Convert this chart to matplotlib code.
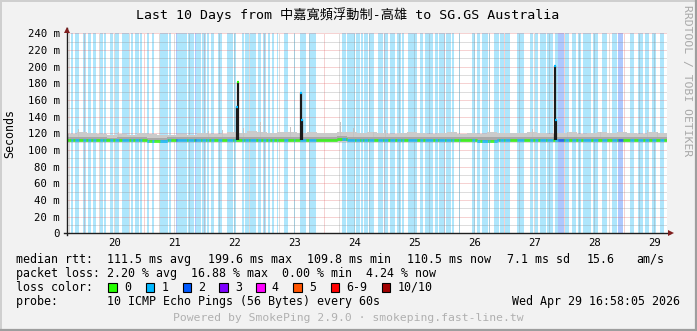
import numpy as np
import matplotlib.pyplot as plt
from matplotlib.collections import LineCollection
from matplotlib.lines import Line2D
from matplotlib.patches import Rectangle

W, H = 697, 331
MONO = ['DejaVu Sans Mono', 'Noto Sans CJK TC']

# time axis in days of April 2026, graph ends Apr 29 16:58
t_end = 29 + (16 * 60 + 58) / 1440.0
t_start = t_end - 10
n_steps = 600
step = 10.0 / n_steps          # one rrd step = 24 min

loss_colors = {0: '#26ff00', 1: '#00b8ff', 2: '#0059ff', 3: '#7e00ff',
               4: '#ff00ff', 5: '#ff5500', 6: '#ff0000', 10: '#a10000'}
bg_colors = {1: '#aee6fc', 2: '#aec8fe'}
legend_keys = [0, 1, 2, 3, 4, 5, 6, 10]
legend_names = ['0', '1', '2', '3', '4', '5', '6-9', '10/10']

# packet loss runs: (first step, end step, loss level)
loss_runs = [
    (4, 6, 1), (8, 12, 1), (16, 19, 1), (21, 24, 1), (26, 29, 1), (33, 36, 1),
    (37, 39, 1), (43, 46, 1), (48, 52, 1), (55, 62, 1), (64, 66, 1), (68, 72, 1),
    (73, 75, 1), (80, 82, 1), (85, 87, 1), (93, 101, 1), (102, 104, 1),
    (109, 110, 2), (110, 120, 1), (121, 127, 1), (128, 134, 1), (128, 129, 2),
    (135, 139, 1), (140, 142, 1), (144, 147, 1), (151, 155, 1), (160, 166, 1),
    (167, 169, 1), (175, 177, 1), (178, 182, 1), (183, 189, 1), (191, 194, 1),
    (196, 199, 1), (201, 203, 1), (205, 207, 1), (210, 211, 1), (217, 221, 1),
    (227, 228, 1), (233, 239, 1), (242, 249, 1), (275, 279, 1), (280, 288, 1),
    (289, 293, 1), (294, 296, 1), (297, 301, 1), (302, 307, 1), (311, 316, 1),
    (317, 321, 1), (323, 328, 1), (330, 334, 1), (335, 337, 1), (341, 350, 1),
    (353, 356, 1), (358, 366, 1), (368, 371, 1), (372, 378, 1), (379, 384, 1),
    (385, 387, 1), (392, 393, 1), (405, 408, 1), (410, 413, 1), (415, 421, 1),
    (422, 423, 1), (427, 432, 1), (433, 437, 1), (438, 443, 1), (450, 453, 1),
    (453, 457, 1), (463, 466, 1), (468, 471, 1), (473, 479, 1), (480, 486, 1),
    (488, 491, 1), (491, 497, 2), (498, 502, 1), (505, 509, 1), (511, 514, 1),
    (516, 524, 1), (526, 531, 1), (535, 540, 1), (545, 550, 1), (551, 556, 2),
    (563, 567, 1), (571, 576, 1), (578, 582, 1), (585, 589, 1), (593, 597, 1),
]

# 4-hour blocks (ms)
median_4h = [
    112, 112, 112, 111.5, 112, 112, 111.5, 111.5, 110.5, 110.5,
    111.5, 112, 112, 112, 112, 112, 111.5, 112, 112.5, 112,
    112, 111.5, 111.5, 112, 112.5, 112, 112, 113.5, 112, 111.5,
    111.5, 111.5, 112, 112, 112, 111.5, 111.5, 111.5, 112, 111.5,
    111.5, 111, 111, 111.5, 111.5, 111.5, 111.5, 111.5, 112, 111.5,
    111.5, 111.5, 111.5, 111.5, 111.5, 111.5, 111.5, 111.5, 111.5, 111.5,
]
smoke_mid_4h = [
    115, 116, 115, 115, 114.5, 115, 115, 115.5, 114.5, 114,
    115, 115, 115, 115.5, 115, 115, 116, 115.5, 116, 115.5,
    115.5, 116, 115.5, 115, 116, 115.5, 115.5, 117, 116, 115.5,
    116, 115.5, 115, 115.5, 116, 115.5, 115, 115.5, 116, 115,
    115.5, 115, 115.5, 115.5, 115, 115.5, 116, 115.5, 115, 115.5,
    116, 115, 115.5, 116, 115.5, 116, 115.5, 115, 116, 115.5,
]
smoke_top_4h = [
    119, 121, 120, 119, 118, 119, 118, 120, 119, 118,
    118, 119, 118, 120, 119, 119, 121, 120, 123, 121,
    120, 122, 121, 120, 121, 120, 120, 122, 121, 120,
    122, 120, 119, 120, 121, 120, 119, 120, 121, 119,
    120, 119, 121, 120, 120, 120, 121, 120, 119, 120,
    121, 119, 120, 122, 120, 121, 120, 119, 121, 120,
]
smoke_spike_idx = [11, 51, 141, 155, 176, 193, 223, 273, 286, 306, 318, 465, 500, 533, 580, 590]
smoke_spike_top = [125, 122, 123, 124, 126, 134, 128, 134, 126, 122, 124, 125, 122, 122, 124, 122]

# rtt outliers (days, ms, loss level)
rtt_spike_t = [22.545, 22.562, 23.612, 23.629, 27.846, 27.862]
rtt_spike_top = [152, 182, 168, 136, 201, 136]
rtt_spike_lvl = [1, 0, 1, 1, 1, 1]

day_labels = list(range(20, 30))
y_ticks = list(range(0, 241, 20))

stats_rtt = ['111.5 ms avg', '199.6 ms max', '109.8 ms min', '110.5 ms now', '7.1 ms sd', '15.6', 'am/s']
stats_rtt_x = [107, 208, 307, 407, 507, 587, 636]
loss_line = 'packet loss: 2.20 % avg  16.88 % max  0.00 % min  4.24 % now'
probe_line = 'probe:       10 ICMP Echo Pings (56 Bytes) every 60s'
date_text = 'Wed Apr 29 16:58:05 2026'


def fx(px):
    return px / W


def fy(py):
    return 1 - py / H


fig = plt.figure(figsize=(W / 100, H / 100), dpi=100)
fig.patch.set_facecolor('#f2f2f2')

x0, x1, ytop, ybot = 66.7, 666.7, 33.3, 233.3
ax = fig.add_axes([fx(x0), fy(ybot), (x1 - x0) / W, (ybot - ytop) / H])
ax.set_facecolor('white')
ax.set_xlim(t_start, t_end)
ax.set_ylim(0, 240)
for s in ax.spines.values():
    s.set_visible(False)

# loss background
level = np.zeros(n_steps, dtype=int)
for a, b, lv in loss_runs:
    level[a:b] = lv
    ax.bar(t_start + a * step, 240, width=(b - a) * step, align='edge',
           color=bg_colors[lv], linewidth=0, zorder=1)

# grid
minor_c = (0.56, 0.56, 0.56, 0.6)
major_c = (0.87, 0.31, 0.31, 0.5)
dot = (0, (1, 1))
for d in np.arange(19.75, 29.76, 0.25):
    if d < t_start or d > t_end:
        continue
    c = major_c if abs(d - round(d)) < 1e-6 else minor_c
    ax.axvline(d, color=c, lw=0.72, ls=dot, zorder=2)
for v in range(10, 241, 10):
    c = major_c if v % 20 == 0 else minor_c
    ax.axhline(v, color=c, lw=0.72, ls=dot, zorder=2, clip_on=False)

# smoke
blk = 10 * step
starts = t_start + np.arange(60) * blk
ax.bar(starts, np.array(smoke_top_4h) - 110, bottom=110, width=blk, align='edge',
       color='#cbcbcb', linewidth=0, zorder=3)
ax.bar(t_start + np.array(smoke_spike_idx) * step, np.array(smoke_spike_top) - 110,
       bottom=110, width=step, align='edge', color='#c4c4c4', linewidth=0, zorder=3)
ax.bar(starts, np.array(smoke_mid_4h) - 110.5, bottom=110.5, width=blk, align='edge',
       color='#a8a8a8', linewidth=0, zorder=3)

# rtt outliers
for t, top, lv in zip(rtt_spike_t, rtt_spike_top, rtt_spike_lvl):
    ax.vlines(t, 112, top, color='#1a1a1a', lw=1.6, zorder=5)
    ax.hlines(top, t - step * 0.6, t + step * 0.6, color=loss_colors[lv], lw=1.6, zorder=6)

# median line coloured by loss
med = np.repeat(median_4h, 10)
segs = [[(t_start + i * step, m), (t_start + (i + 1) * step, m)] for i, m in enumerate(med)]
cols = [loss_colors[l] for l in level]
ax.add_collection(LineCollection(segs, colors=cols, linewidths=2.0, capstyle='butt', zorder=4))

# ticks
ax.set_yticks(y_ticks)
ax.set_yticklabels(['0'] + ['%d m' % v for v in y_ticks[1:]], family=MONO, fontsize=7.7)
ax.set_xticks([d + 0.5 for d in day_labels])
ax.set_xticklabels([str(d) for d in day_labels], family=MONO, fontsize=7.7)
ax.tick_params(axis='y', length=0, pad=5)
ax.tick_params(axis='x', length=0, pad=3.5)

# axes lines and arrows
axis_c = '#1f1f1f'
arrow_c = '#801f1f'
fig.add_artist(Line2D([fx(x0), fx(x0)], [fy(ybot + 2), fy(28)], color=axis_c, lw=1))
fig.add_artist(Line2D([fx(x0 - 3), fx(670)], [fy(ybot), fy(ybot)], color=axis_c, lw=1))
fig.add_artist(Line2D([fx(x0)], [fy(29.5)], marker='^', ms=5, color=arrow_c, mew=0))
fig.add_artist(Line2D([fx(670.5)], [fy(ybot)], marker='>', ms=5, color=arrow_c, mew=0))

# 3d border
fig.add_artist(Line2D([0, 1], [fy(0.5), fy(0.5)], color='#cfcfcf', lw=1.4))
fig.add_artist(Line2D([fx(0.5), fx(0.5)], [0, 1], color='#cfcfcf', lw=1.4))
fig.add_artist(Line2D([0, 1], [fy(H - 1), fy(H - 1)], color='#9e9e9e', lw=1.6))
fig.add_artist(Line2D([fx(W - 1), fx(W - 1)], [0, 1], color='#9e9e9e', lw=1.6))

# texts
fig.text(fx(348), fy(15), 'Last 10 Days from 中嘉寬頻浮動制-高雄 to SG.GS Australia',
         family=MONO, fontsize=9.5, ha='center', va='center')
fig.text(fx(10), fy(133), 'Seconds', family=MONO, fontsize=8.4, rotation=90,
         ha='center', va='center')
fig.text(fx(686.7), fy(5), 'RRDTOOL / TOBI OETIKER', family=MONO, fontsize=8.2,
         rotation=270, ha='center', va='top', color='#a8a8a8')

fs = 8.4
fig.text(fx(16), fy(259.3), 'median rtt:', family=MONO, fontsize=fs, va='center')
for s, px in zip(stats_rtt, stats_rtt_x):
    fig.text(fx(px), fy(259.3), s, family=MONO, fontsize=fs, va='center')
fig.text(fx(16), fy(273.3), loss_line, family=MONO, fontsize=fs, va='center')
fig.text(fx(16), fy(287.3), 'loss color:', family=MONO, fontsize=fs, va='center')
box_x = [108.3, 145.7, 182.7, 219.3, 256.3, 293.3, 330.5, 381.7]
for bx, k, name in zip(box_x, legend_keys, legend_names):
    fig.add_artist(Rectangle((fx(bx), fy(291.7)), 8.3 / W, 8.4 / H, facecolor=loss_colors[k],
                             edgecolor='black', lw=0.8))
    fig.text(fx(bx + 15.5), fy(287.3), name, family=MONO, fontsize=fs, va='center')
fig.text(fx(16), fy(301.3), probe_line, family=MONO, fontsize=fs, va='center')
fig.text(fx(680), fy(301.3), date_text, family=MONO, fontsize=fs, va='center', ha='right')
fig.text(fx(348.5), fy(318), 'Powered by SmokePing 2.9.0 · smokeping.fast-line.tw',
         family=MONO, fontsize=8.2, va='center', ha='center', color='#b0b0b0')

fig.savefig('out.png', dpi=100, facecolor=fig.get_facecolor())
